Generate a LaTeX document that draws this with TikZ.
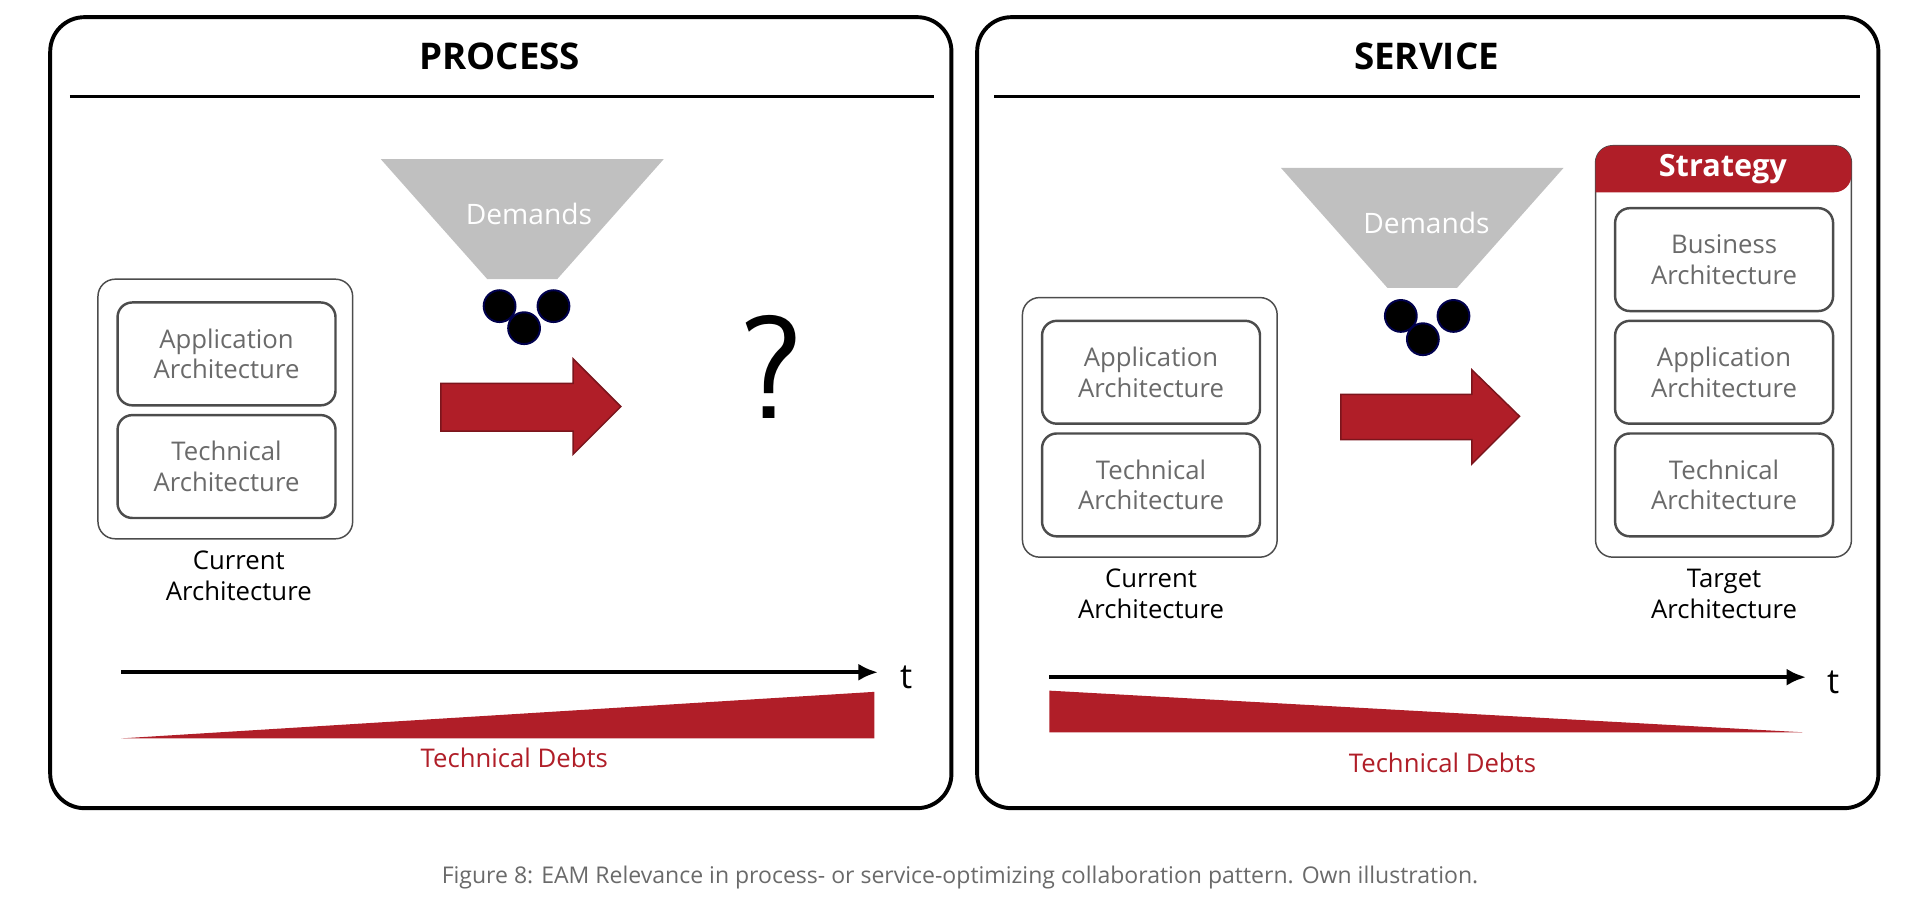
\documentclass[tikz,border=0pt]{standalone}
\usepackage{fontspec}
\setmainfont{Open Sans}
\usetikzlibrary{shapes.arrows,arrows.meta}
\definecolor{dred}{HTML}{B01E28}
\definecolor{gtxt}{HTML}{6A6A6A}
\definecolor{funnel}{HTML}{C0C0C0}
\begin{document}
\begin{tikzpicture}[x=0.5pt,y=-0.5pt,
 panel/.style={draw=black,line width=1.6pt,rounded corners=14pt},
 outer/.style={draw=black!70,line width=0.6pt,rounded corners=7pt},
 inner/.style={draw=black!70,line width=1pt,rounded corners=6pt,text=gtxt,align=center,font=\fontsize{10.5}{12.5}\selectfont},
 lbl/.style={align=center,font=\fontsize{10.5}{12.5}\selectfont},
 title/.style={font=\fontsize{15}{18}\selectfont\bfseries},
 ball/.style={circle,fill=black,draw=blue!30!black,line width=0.8pt,minimum size=13pt,inner sep=0},
 bigarrow/.style={fill=dred,draw=dred!70!black,line width=0.6pt},
 debt/.style={fill=dred},
 axis/.style={line width=1.8pt,-{Latex[length=8pt,width=7pt]}}]
\useasboundingbox (0,0) rectangle (1568,752);
% ===== left panel
\draw[panel] (41,14) rectangle (777,660);
\node[title] (pt) at (408,46) {PROCESS};
\draw[line width=1.4pt] (57,79) -- (763,79);
\fill[funnel] (311,130) -- (542,130) -- (455,228) -- (398,228) -- cycle;
\node[text=white,font=\fontsize{11.5}{14}\selectfont] (pd) at (432,175) {Demands};
\node[ball] (b1) at (408,250) {};
\node[ball] (b2) at (452,250) {};
\node[ball] (b3) at (428,268) {};
\draw[outer] (80,228) rectangle (288,440);
\node[inner,minimum width=89pt,minimum height=42pt] (pa) at (185,289) {Application\\Architecture};
\node[inner,minimum width=89pt,minimum height=42pt] (ptc) at (185,381) {Technical\\Architecture};
\node[lbl] (pc) at (195,470) {Current\\Architecture};
\draw[bigarrow] (360,313) -- (468,313) -- (468,293) -- (507,332) -- (468,371) -- (468,352) -- (360,352) -- cycle;
\node[font=\fontsize{60}{60}\selectfont\sffamily] (q) at (630,300) {?};
\coordinate (a1s) at (99,549); \coordinate (a1e) at (717,549);
\draw[axis] (a1s) -- (a1e);
\node[font=\fontsize{14}{16}\selectfont] (t1) at (740,553) {t};
\fill[debt] (99,603) -- (714,565) -- (714,603) -- cycle;
\node[text=dred,font=\fontsize{10.5}{12}\selectfont] (d1) at (420,619) {Technical Debts};
% ===== right panel
\draw[panel] (798,14) rectangle (1534,660);
\node[title] (st) at (1165,46) {SERVICE};
\draw[line width=1.4pt] (812,79) -- (1519,79);
\fill[funnel] (1046,137) -- (1277,137) -- (1190,235) -- (1133,235) -- cycle;
\node[text=white,font=\fontsize{11.5}{14}\selectfont] (sd) at (1165,182) {Demands};
\node[ball] (c1) at (1144,258) {};
\node[ball] (c2) at (1187,258) {};
\node[ball] (c3) at (1162,277) {};
\draw[outer] (835,243) rectangle (1043,455);
\node[inner,minimum width=89pt,minimum height=42pt] (sa) at (940,304) {Application\\Architecture};
\node[inner,minimum width=89pt,minimum height=42pt] (stc) at (940,396) {Technical\\Architecture};
\node[lbl] (sc) at (940,485) {Current\\Architecture};
\draw[bigarrow] (1095,322) -- (1202,322) -- (1202,302) -- (1241,340) -- (1202,379) -- (1202,359) -- (1095,359) -- cycle;
\draw[outer] (1303,119) rectangle (1512,455);
\fill[dred,rounded corners=7pt] (1303,157) -- (1303,119) -- (1512,119) -- (1512,157) [sharp corners] -- cycle;
\node[text=white,font=\fontsize{12.5}{14}\selectfont\bfseries] (str) at (1407,138) {Strategy};
\node[inner,minimum width=89pt,minimum height=42pt] (tb) at (1408,212) {Business\\Architecture};
\node[inner,minimum width=89pt,minimum height=42pt] (ta) at (1408,304) {Application\\Architecture};
\node[inner,minimum width=89pt,minimum height=42pt] (tt) at (1408,396) {Technical\\Architecture};
\node[lbl] (tg) at (1408,485) {Target\\Architecture};
\coordinate (a2s) at (857,553); \coordinate (a2e) at (1475,553);
\draw[axis] (a2s) -- (a2e);
\node[font=\fontsize{14}{16}\selectfont] (t2) at (1497,557) {t};
\fill[debt] (857,564) -- (857,598) -- (1472,598) -- cycle;
\node[text=dred,font=\fontsize{10.5}{12}\selectfont] (d2) at (1178,623) {Technical Debts};
% caption
\node[text=gtxt,font=\fontsize{9.4}{11}\selectfont] (cap) at (784,717) {Figure 8: EAM Relevance in process- or service-optimizing collaboration pattern. Own illustration.};
\end{tikzpicture}
\end{document}
